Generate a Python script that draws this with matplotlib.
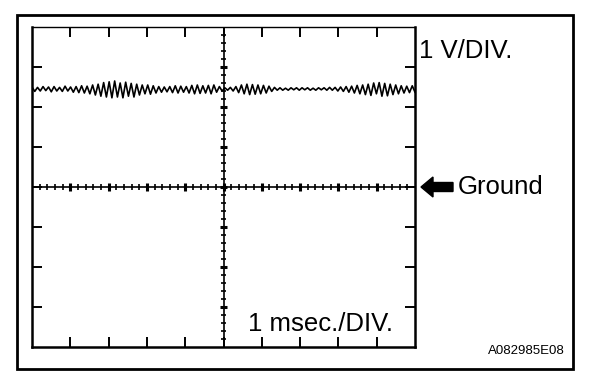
import numpy as np
import matplotlib
matplotlib.use("Agg")
import matplotlib.pyplot as plt
from matplotlib.patches import Rectangle, FancyArrow

plt.rcParams['font.family'] = ['Liberation Sans', 'DejaVu Sans']

# scope settings
n_xdiv = 10
n_ydiv = 8
signal_level = 2.45   # volts above ground (1 V/DIV)

# peak offsets of the ripple (V), one value per half cycle
ripple = [
    0.05, -0.06, 0.04, -0.05, 0.06, -0.04, 0.05, -0.07, 0.06, -0.05, 0.04, -0.06, 0.07, -0.05,
    0.05, -0.08, 0.06, -0.09, 0.08, -0.10, 0.07, -0.12, 0.10, -0.15, 0.12, -0.18, 0.16, -0.20,
    0.18, -0.22, 0.20, -0.20, 0.15, -0.22, 0.17, -0.18, 0.14, -0.20, 0.12, -0.15, 0.10, -0.12,
    0.10, -0.13, 0.08, -0.10, 0.06, -0.08, 0.05, -0.07, 0.06, -0.09, 0.08, -0.10, 0.07, -0.08,
    0.06, -0.10, 0.09, -0.12, 0.10, -0.11, 0.08, -0.10, 0.09, -0.12, 0.10, -0.08, 0.06, -0.05,
    0.03, -0.03, 0.04, -0.05, 0.06, -0.09, 0.10, -0.12, 0.12, -0.14, 0.11, -0.13, 0.10, -0.12,
    0.09, -0.10, 0.07, -0.06, 0.04, -0.03, 0.03, -0.03, 0.02, -0.03, 0.03, -0.02, 0.03, -0.03,
    0.03, -0.02, 0.03, -0.03, 0.02, -0.03, 0.03, -0.02, 0.03, -0.03, 0.04, -0.03, 0.04, -0.05,
    0.05, -0.06, 0.06, -0.08, 0.07, -0.10, 0.09, -0.12, 0.10, -0.14, 0.12, -0.16, 0.15, -0.12,
    0.16, -0.18, 0.14, -0.17, 0.12, -0.14, 0.10, -0.12, 0.08, -0.10, 0.07, -0.09, 0.08, -0.08,
]

volt_label = "1 V/DIV."
time_label = "1 msec./DIV."
ground_label = "Ground"
code_label = "A082985E08"

W, H = 608, 382
fig = plt.figure(figsize=(W / 100, H / 100), dpi=100)

# overlay in pixel coords for the frame and the labels
bg = fig.add_axes([0, 0, 1, 1])
bg.set_xlim(0, W)
bg.set_ylim(H, 0)
bg.axis('off')
bg.add_patch(Rectangle((17, 15), 556, 354, fill=False, lw=2, ec='black'))

# scope screen
L, R, T, B = 32, 415, 27, 347
ax = fig.add_axes([L / W, 1 - B / H, (R - L) / W, (B - T) / H])
ax.patch.set_visible(False)
ax.set_xlim(0, n_xdiv)
ax.set_ylim(-n_ydiv / 2, n_ydiv / 2)
for s in ['left', 'right', 'bottom']:
    ax.spines[s].set_linewidth(1.8)
ax.spines['top'].set_linewidth(1.0)
ax.set_xticks(np.arange(1, n_xdiv))
ax.set_yticks(np.arange(-n_ydiv / 2 + 1, n_ydiv / 2))
ax.tick_params(which='major', direction='in', length=7, width=1.4,
               top=True, right=True, labelbottom=False, labelleft=False)

# centre graticule with fine ticks
ax.axhline(0, color='black', lw=1.2)
ax.axvline(n_xdiv / 2, color='black', lw=1.2)
fx = np.arange(0.2, n_xdiv, 0.2)
fy = np.arange(-n_ydiv / 2 + 0.2, n_ydiv / 2, 0.2)
ax.vlines(fx, -0.075, 0.075, color='black', lw=1.2)
ax.hlines(fy, n_xdiv / 2 - 0.07, n_xdiv / 2 + 0.07, color='black', lw=1.2)
ax.vlines(np.arange(1, n_xdiv), -0.1, 0.1, color='black', lw=2.2)
ax.hlines(np.arange(-n_ydiv / 2 + 1, n_ydiv / 2), n_xdiv / 2 - 0.1, n_xdiv / 2 + 0.1,
          color='black', lw=2.2)

# trace
t = np.linspace(0, n_xdiv, len(ripple))
ax.plot(t, signal_level + np.array(ripple), color='black', lw=1.2)

# labels
fs = 18.5
bg.text(419, 51, volt_label, fontsize=fs, ha='left', va='center')
bg.text(458, 187, ground_label, fontsize=fs, ha='left', va='center')
bg.text(248, 324, time_label, fontsize=fs, ha='left', va='center')
bg.text(565, 351, code_label, fontsize=9.5, ha='right', va='center')
bg.add_patch(FancyArrow(453, 187, -32, 0, width=9, head_width=20, head_length=12,
                        length_includes_head=True, color='black'))

fig.savefig('out.png', dpi=100)
